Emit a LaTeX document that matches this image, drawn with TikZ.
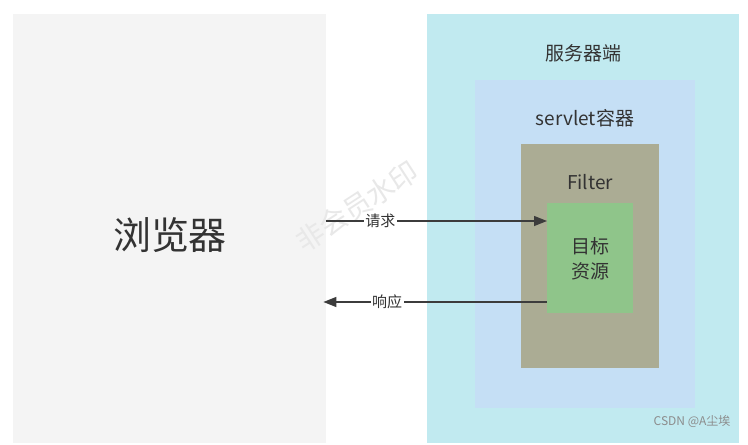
\documentclass[tikz,border=0pt]{standalone}
\usepackage{fontspec}
\setmainfont{Noto Sans CJK SC}
\usetikzlibrary{arrows.meta}
\definecolor{browserfill}{HTML}{F4F4F4}
\definecolor{serverfill}{HTML}{C1EAF0}
\definecolor{servletfill}{HTML}{C5DFF5}
\definecolor{filterfill}{HTML}{ABAC94}
\definecolor{targetfill}{HTML}{8FC58A}
\definecolor{txt}{HTML}{333333}
\definecolor{arrowc}{HTML}{3C3C3C}
\tikzset{
  area/.style={draw=none, rectangle, inner sep=0pt, anchor=north west},
  lbl/.style={text=txt, inner sep=0pt, align=center},
  flow/.style={draw=arrowc, line width=1.4pt, -{Triangle[length=13pt,width=10pt]}},
  flowlbl/.style={fill=white, text=txt, inner sep=1.5pt, font=\fontsize{15}{18}\selectfont},
}
\begin{document}
\begin{tikzpicture}[x=1pt,y=-1pt]
\useasboundingbox[fill=white] (0,0) rectangle (748,445);
% containers
\node[area, fill=browserfill, minimum width=313pt, minimum height=429pt] (browser) at (13,14) {};
\node[area, fill=serverfill, minimum width=312pt, minimum height=429pt] (server) at (427,14) {};
\node[area, fill=servletfill, minimum width=220pt, minimum height=328pt] (servlet) at (475,80) {};
\node[area, fill=filterfill, minimum width=138pt, minimum height=224pt] (filter) at (521,144) {};
\node[area, fill=targetfill, minimum width=86pt, minimum height=110pt] (target) at (547,203) {};
% labels
\node[lbl, font=\fontsize{38}{44}\selectfont] (browserlbl) at (170,235) {浏览器};
\node[lbl, font=\fontsize{19}{22}\selectfont] (serverlbl) at (583,53) {服务器端};
\node[lbl, font=\fontsize{19}{22}\selectfont] (servletlbl) at (585,118) {servlet容器};
\node[lbl, font=\fontsize{19}{22}\selectfont] (filterlbl) at (590,182) {Filter};
\node[lbl, font=\fontsize{19}{25}\selectfont] (targetlbl) at (590,259) {目标\\资源};
% watermark
\node[text=black!9, rotate=33, font=\fontsize{28}{30}\selectfont] (wm) at (357,206) {非会员水印};
% connectors
\coordinate (reqy) at (0,221);
\coordinate (respy) at (0,302);
\draw[flow] (browser.east |- reqy) -- (target.west |- reqy) node[flowlbl, pos=0.245] (reqlbl) {请求};
\draw[flow] (target.west |- respy) -- ([xshift=-3pt]browser.east |- respy) node[flowlbl, pos=0.715] (resplbl) {响应};
% credit
\node[text=black!45, font=\fontsize{12}{14}\selectfont, anchor=east] (credit) at (734,421) {CSDN @A尘埃};
\end{tikzpicture}
\end{document}
